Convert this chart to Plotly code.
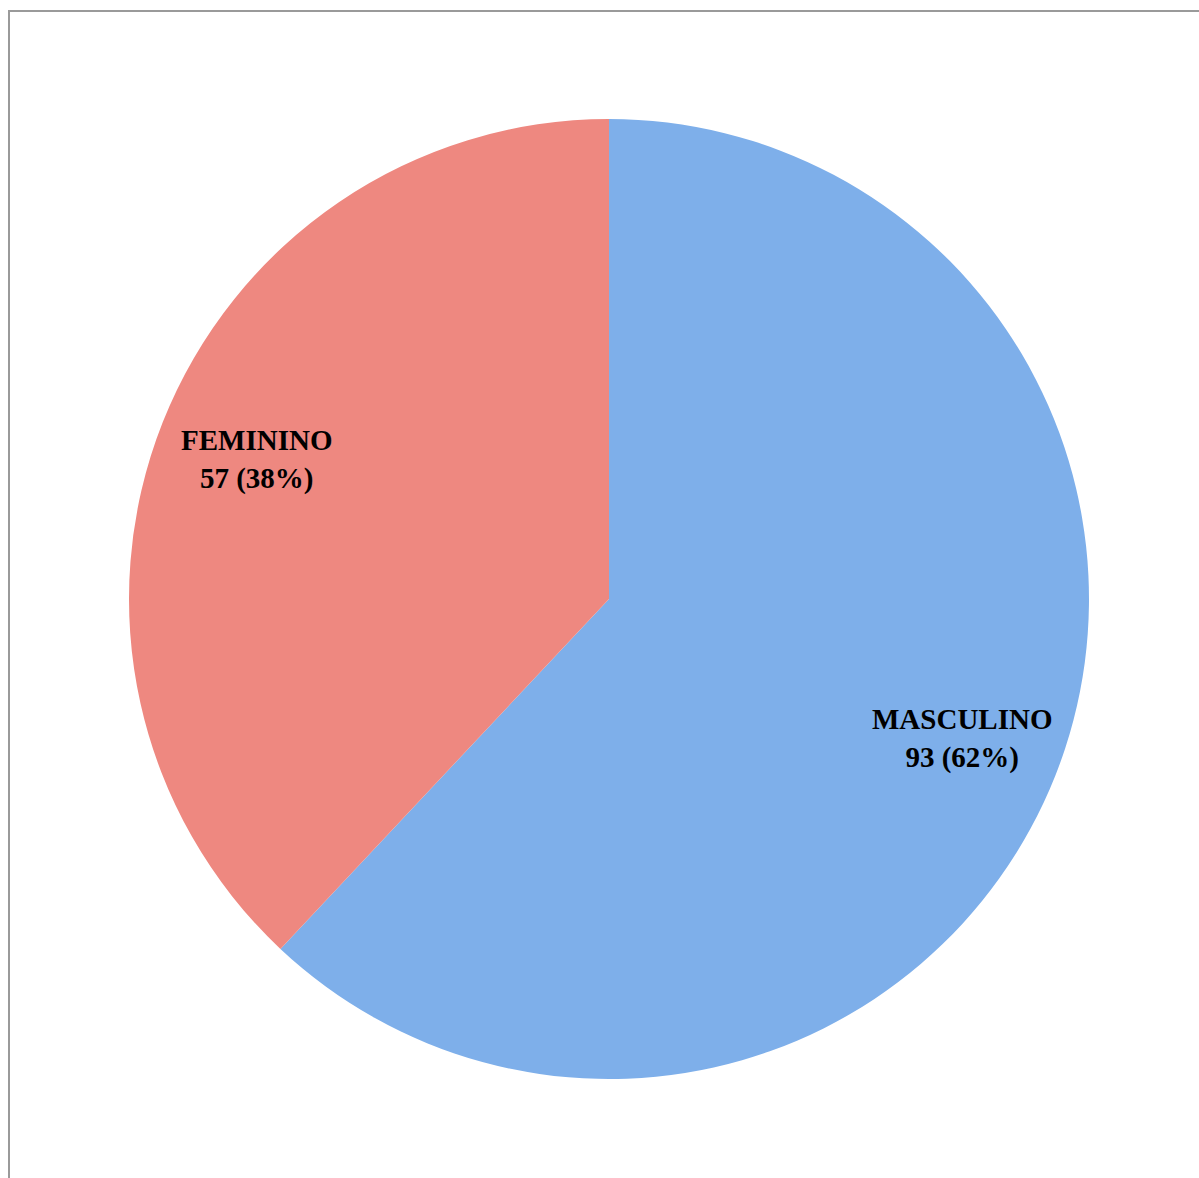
import math
import plotly.graph_objects as go

labels = ["MASCULINO", "FEMININO"]
values = [93, 57]
colors = ["#7EAFEA", "#EE8880"]

W, H = 1199, 1178
cx, cy, R = 609, 599, 480  # pie geometry in pixels

fig = go.Figure()
fig.add_trace(go.Pie(
    labels=labels,
    values=values,
    sort=False,
    direction="clockwise",
    rotation=0,
    marker=dict(colors=colors, line=dict(width=0)),
    textinfo="none",
    hoverinfo="label+value+percent",
    showlegend=False,
    domain=dict(x=[(cx - R) / W, (cx + R) / W], y=[1 - (cy + R) / H, 1 - (cy - R) / H]),
))

total = sum(values)
start = 0.0
annotations = []
for lab, v in zip(labels, values):
    frac = v / total
    mid = (start + frac / 2) * 2 * math.pi  # clockwise from top
    start += frac
    px = cx + 0.79 * R * math.sin(mid)
    py = cy - 0.79 * R * math.cos(mid)
    annotations.append(dict(
        x=px / W, y=1 - py / H, xref="paper", yref="paper",
        xanchor="center", yanchor="middle",
        text=f"<b>{lab}</b><br><b>{v} ({round(frac * 100)}%)</b>",
        showarrow=False, align="center",
        font=dict(family="Liberation Serif", size=29, color="#000000"),
    ))

fig.update_layout(
    width=W, height=H,
    margin=dict(l=0, r=0, t=0, b=0),
    paper_bgcolor="white", plot_bgcolor="white",
    annotations=annotations,
    shapes=[dict(type="rect", xref="paper", yref="paper",
                 x0=9 / W, x1=1.02, y0=-0.02, y1=1 - 11 / H,
                 line=dict(color="#9A9A9A", width=2), fillcolor="rgba(0,0,0,0)")],
)
fig.write_html("out.html")
